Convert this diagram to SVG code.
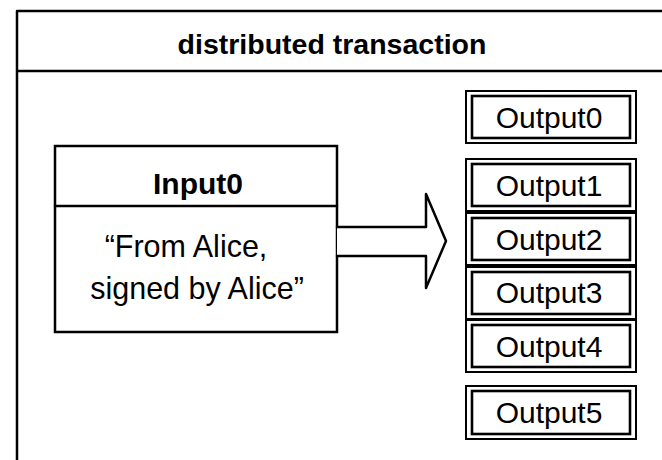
<svg xmlns="http://www.w3.org/2000/svg" width="662" height="460" viewBox="0 0 662 460">
<style>
.ln{fill:none;stroke:#000;stroke-width:2.5;stroke-linecap:round;stroke-linejoin:round}
.bx{fill:#fff;stroke:#000;stroke-width:2.5}
.ob{fill:#fff;stroke:#000;stroke-width:2}
.ib{fill:none;stroke:#000;stroke-width:2.6}
.t{font-family:"Liberation Sans",Arial,sans-serif;fill:#000;text-anchor:middle}
.b{font-weight:bold}
.o{font-size:30px}
</style>
<rect width="662" height="460" fill="#fff"/>
<g id="container">
<path class="ln" d="M17 11 H664 M17 11 V462 M17 71 H664"/>
<text class="t b" x="332" y="54" font-size="28.5">distributed transaction</text>
</g>
<g id="input0">
<rect class="bx" x="55" y="146" width="282" height="186"/>
<line class="ln" x1="55" y1="206" x2="337" y2="206"/>
<text class="t b" x="198" y="194" font-size="30">Input0</text>
<text class="t" x="186" y="257" font-size="30.5">“From Alice,</text>
<text class="t" x="197" y="299" font-size="30.5">signed by Alice”</text>
</g>
<g id="connectors">
<path class="ln" style="fill:#fff" d="M337 227 H426 V194 L446 241 L426 288 V256 H337"/>
</g>
<g id="output0">
<rect class="ob" x="466" y="91" width="170" height="52"/>
<rect class="ib" x="472" y="96" width="158" height="42"/>
<text class="t o" x="549" y="128">Output0</text>
</g>
<g id="output1">
<rect class="ob" x="466" y="159" width="170" height="52"/>
<rect class="ib" x="472" y="164" width="158" height="42"/>
<text class="t o" x="549" y="196">Output1</text>
</g>
<g id="output2">
<rect class="ob" x="466" y="213" width="170" height="52"/>
<rect class="ib" x="472" y="218" width="158" height="42"/>
<text class="t o" x="549" y="250">Output2</text>
</g>
<g id="output3">
<rect class="ob" x="466" y="267" width="170" height="52"/>
<rect class="ib" x="472" y="272" width="158" height="42"/>
<text class="t o" x="549" y="303">Output3</text>
</g>
<g id="output4">
<rect class="ob" x="466" y="320" width="170" height="52"/>
<rect class="ib" x="472" y="325" width="158" height="42"/>
<text class="t o" x="549" y="357">Output4</text>
</g>
<g id="output5">
<rect class="ob" x="466" y="386" width="170" height="53"/>
<rect class="ib" x="472" y="391" width="158" height="43"/>
<text class="t o" x="549" y="423">Output5</text>
</g>
</svg>
